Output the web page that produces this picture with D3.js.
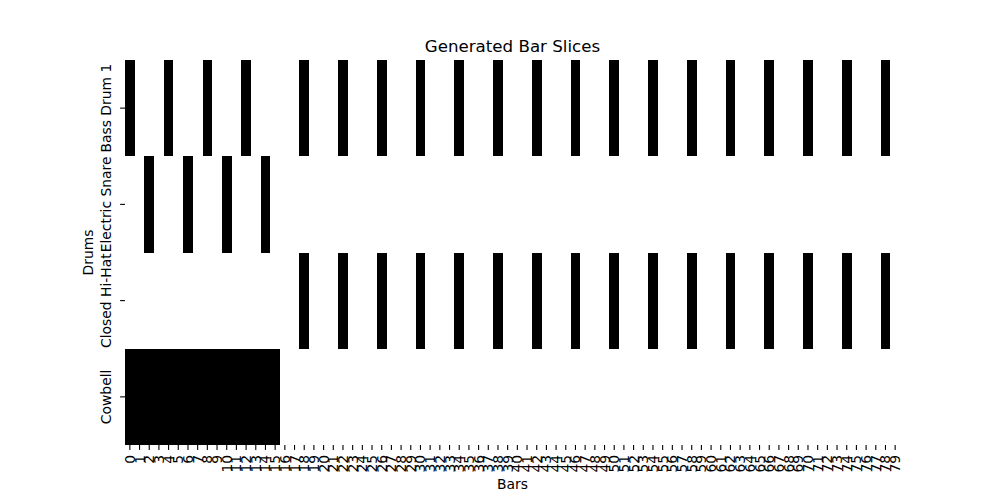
<!DOCTYPE html>
<html><head><meta charset="utf-8">
<script src="https://cdn.jsdelivr.net/npm/d3@7"></script>
<style>body{margin:0;background:#fff;} svg{display:block;font-family:"DejaVu Sans",sans-serif;}</style>
</head><body>
<svg id="c" width="1000" height="500"></svg>
<script>
const drums = ["Bass Drum 1", "Electric Snare", "Closed Hi-Hat", "Cowbell"];
const bars = d3.range(80).map(String); // tick labels 0..79
const bassDrum1 = [
  1,0,0,0, 1,0,0,0, 1,0,0,0, 1,0,0,0,
  0,0,1,0, 0,0,1,0, 0,0,1,0, 0,0,1,0,
  0,0,1,0, 0,0,1,0, 0,0,1,0, 0,0,1,0,
  0,0,1,0, 0,0,1,0, 0,0,1,0, 0,0,1,0,
  0,0,1,0, 0,0,1,0, 0,0,1,0, 0,0,1,0
];
const electricSnare = [
  0,0,1,0, 0,0,1,0, 0,0,1,0, 0,0,1,0,
  0,0,0,0, 0,0,0,0, 0,0,0,0, 0,0,0,0,
  0,0,0,0, 0,0,0,0, 0,0,0,0, 0,0,0,0,
  0,0,0,0, 0,0,0,0, 0,0,0,0, 0,0,0,0,
  0,0,0,0, 0,0,0,0, 0,0,0,0, 0,0,0,0
];
const closedHiHat = [
  0,0,0,0, 0,0,0,0, 0,0,0,0, 0,0,0,0,
  0,0,1,0, 0,0,1,0, 0,0,1,0, 0,0,1,0,
  0,0,1,0, 0,0,1,0, 0,0,1,0, 0,0,1,0,
  0,0,1,0, 0,0,1,0, 0,0,1,0, 0,0,1,0,
  0,0,1,0, 0,0,1,0, 0,0,1,0, 0,0,1,0
];
const cowbell = [
  1,1,1,1, 1,1,1,1, 1,1,1,1, 1,1,1,1,
  0,0,0,0, 0,0,0,0, 0,0,0,0, 0,0,0,0,
  0,0,0,0, 0,0,0,0, 0,0,0,0, 0,0,0,0,
  0,0,0,0, 0,0,0,0, 0,0,0,0, 0,0,0,0,
  0,0,0,0, 0,0,0,0, 0,0,0,0, 0,0,0,0
];
const matrix = [bassDrum1, electricSnare, closedHiHat, cowbell];

const svg = d3.select("#c");
const L = 125, R = 900, T = 60, B = 445;
const x = d3.scaleBand().domain(bars).range([L, R]).padding(0);
const y = d3.scaleBand().domain(drums).range([T, B]).padding(0);
const color = d3.scaleLinear().domain([0, 1]).range(["#ffffff", "#000000"]);

const cells = [];
matrix.forEach((row, i) => row.forEach((v, j) => cells.push({drum: drums[i], bar: bars[j], v})));
cells.sort((a, b) => a.v - b.v);
svg.append("g").attr("shape-rendering", "crispEdges")
  .selectAll("rect").data(cells).join("rect")
  .attr("x", d => Math.round(x(d.bar))).attr("y", d => Math.round(y(d.drum)))
  .attr("width", d => Math.round(x(d.bar) + x.bandwidth()) - Math.round(x(d.bar)))
  .attr("height", d => Math.round(y(d.drum) + y.bandwidth()) - Math.round(y(d.drum)))
  .attr("fill", d => color(d.v));

const fs = 13.89;
// x axis
const xa = svg.append("g").attr("transform", `translate(0,${B})`)
  .call(d3.axisBottom(x).tickSize(4.9).tickPadding(0));
xa.select(".domain").remove();
xa.selectAll(".tick line").attr("stroke", "#000").attr("stroke-width", 1.1);
xa.selectAll(".tick text")
  .attr("font-size", fs).attr("font-family", "DejaVu Sans").attr("fill", "#000")
  .attr("text-anchor", "end").attr("dominant-baseline", "central")
  .attr("dy", null).attr("y", 0)
  .attr("transform", "translate(0,9.8) rotate(-90)");

// y axis
const ya = svg.append("g").attr("transform", `translate(${L},0)`)
  .call(d3.axisLeft(y).tickSize(4.9).tickPadding(0));
ya.select(".domain").remove();
ya.selectAll(".tick line").attr("stroke", "#000").attr("stroke-width", 1.1);
ya.selectAll(".tick text")
  .attr("font-size", fs).attr("font-family", "DejaVu Sans").attr("fill", "#000")
  .attr("text-anchor", "middle").attr("dy", null).attr("x", 0).attr("y", 0)
  .attr("transform", "translate(-14,0) rotate(-90)");

// labels
svg.append("text").attr("x", (L + R) / 2).attr("y", 489).attr("text-anchor", "middle")
  .attr("font-size", fs).text("Bars");
svg.append("text").attr("transform", `translate(93,${(T + B) / 2}) rotate(-90)`)
  .attr("text-anchor", "middle").attr("font-size", fs).text("Drums");
svg.append("text").attr("x", (L + R) / 2).attr("y", 52).attr("text-anchor", "middle")
  .attr("font-size", 16.67).text("Generated Bar Slices");
</script>
</body></html>
